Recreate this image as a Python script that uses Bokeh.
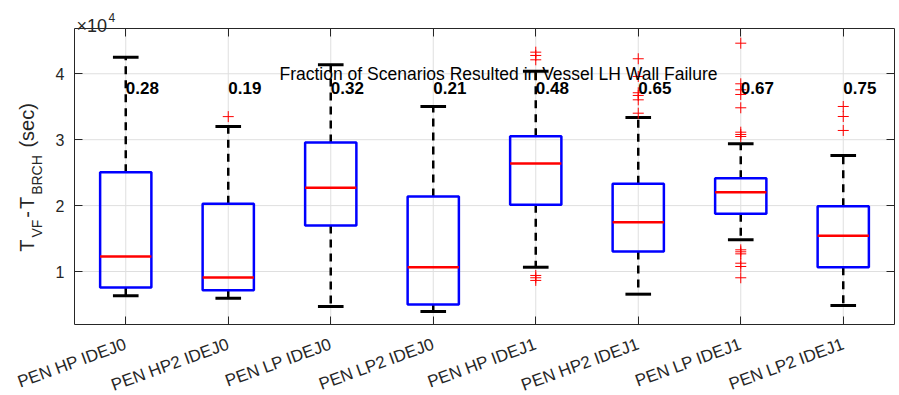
import math
from bokeh.plotting import figure
from bokeh.models import Range1d, LinearAxis, FixedTicker, Label, ColumnDataSource
from bokeh.core.properties import value
from bokeh.embed import file_html
from bokeh.resources import INLINE

# ---------------- data ----------------
categories = ["PEN HP IDEJ0", "PEN HP2 IDEJ0", "PEN LP IDEJ0", "PEN LP2 IDEJ0",
              "PEN HP IDEJ1", "PEN HP2 IDEJ1", "PEN LP IDEJ1", "PEN LP2 IDEJ1"]
fractions = ["0.28", "0.19", "0.32", "0.21", "0.48", "0.65", "0.67", "0.75"]
whisker_low = [6310, 5960, 4690, 3930, 10650, 6560, 14810, 4840]
q1 = [7570, 7160, 16980, 4990, 20120, 13030, 18750, 10650]
median = [12280, 9090, 22700, 10650, 26390, 17480, 22030, 15420]
q3 = [25070, 20270, 29580, 21380, 30530, 23310, 24160, 19910]
whisker_high = [42500, 32000, 41370, 35040, 40400, 33370, 29380, 27600]
outliers = [
    [],
    [33500],
    [],
    [],
    [43280, 42780, 42120, 9400, 9050, 8650],
    [42280, 39590, 37120, 36710, 36050, 34020],
    [44640, 38480, 37570, 36860, 34840, 31140, 30790, 30480,
     13290, 12990, 12680, 11260, 10760, 9050],
    [35040, 33520, 31400],
]
y_ticks = [10000, 20000, 30000, 40000]
y_tick_labels = ["1", "2", "3", "4"]
title_text = "Fraction of Scenarios Resulted in Vessel LH Wall Failure"
exponent_base = "\u00d710"
exponent_power = "4"
ylabel_main = ["T", "-", "T", "(sec)"]
ylabel_sub = ["VF", "BRCH"]

# ---------------- layout constants ----------------
W, H = 899, 395
FL, FR, FT, FB = 74, 894, 28, 324          # axes box edges (px)
X0, X1 = 0.5, 8.5
Y0, Y1 = 1960, 46870
FONT = "Liberation Sans"
AX = "#262626"
GRID = "#dfdfdf"

sx_per = (X1 - X0) / (FR - FL)
sy_per = (Y1 - Y0) / (FB - FT)


def px_x(px):
    return X0 + (px - FL) * sx_per


def px_y(py):
    return Y0 + (FB - py) * sy_per


xs = list(range(1, len(categories) + 1))
box_w = 0.5
cap_w = 0.25

# the frame covers the whole canvas; the axes box is drawn with fixed axes
p = figure(width=W, height=H, output_backend="svg", toolbar_location=None,
           x_range=Range1d(px_x(0), px_x(W)), y_range=Range1d(px_y(H), px_y(0)),
           x_axis_type=None, y_axis_type=None,
           min_border=0, min_border_left=0, min_border_right=0,
           min_border_top=0, min_border_bottom=0)
p.background_fill_color = "white"
p.border_fill_color = "white"
p.outline_line_color = None
p.title.visible = False

# grid lines inside the axes box
p.segment(x0=xs, y0=[Y0] * len(xs), x1=xs, y1=[Y1] * len(xs),
          line_color=GRID, line_width=1)
p.segment(x0=[X0] * len(y_ticks), y0=y_ticks, x1=[X1] * len(y_ticks), y1=y_ticks,
          line_color=GRID, line_width=1)


def make_axis(loc, bounds, ticks, labels=None, font_size="16px"):
    ax = LinearAxis(fixed_location=loc, bounds=bounds, ticker=FixedTicker(ticks=ticks))
    ax.major_tick_in = 8
    ax.major_tick_out = 0
    ax.minor_tick_in = 0
    ax.minor_tick_out = 0
    ax.minor_tick_line_color = None
    ax.axis_line_color = AX
    ax.axis_line_width = 1
    ax.major_tick_line_color = AX
    ax.major_label_text_font = FONT
    if labels is not None:
        ax.major_label_overrides = {t: l for t, l in zip(ticks, labels)}
        ax.major_label_text_font_size = font_size
        ax.major_label_text_color = AX
    else:
        ax.major_label_text_color = None
        ax.major_label_text_font_size = "0px"
    return ax


bottom_ax = make_axis(Y0, (X0, X1), xs, categories, "17px")
bottom_ax.major_label_orientation = math.radians(20)
bottom_ax.major_label_standoff = 19
p.add_layout(bottom_ax, "below")

left_ax = make_axis(X0, (Y0, Y1), y_ticks, y_tick_labels, "16px")
left_ax.major_label_standoff = 10
p.add_layout(left_ax, "left")

p.add_layout(make_axis(Y1, (X0, X1), xs), "above")
p.add_layout(make_axis(X1, (Y0, Y1), y_ticks), "right")

# ---------------- boxplot ----------------
src = ColumnDataSource(dict(
    x=xs, lo=whisker_low, q1=q1, med=median, q3=q3, hi=whisker_high,
    xl=[x - cap_w / 2 for x in xs], xr=[x + cap_w / 2 for x in xs],
    bl=[x - box_w / 2 for x in xs], br=[x + box_w / 2 for x in xs],
))

p.segment(x0="x", y0="q3", x1="x", y1="hi", source=src, line_color="black",
          line_width=2.5, line_dash="8 6")
p.segment(x0="x", y0="q1", x1="x", y1="lo", source=src, line_color="black",
          line_width=2.5, line_dash="8 6")
p.segment(x0="xl", y0="hi", x1="xr", y1="hi", source=src, line_color="black", line_width=3)
p.segment(x0="xl", y0="lo", x1="xr", y1="lo", source=src, line_color="black", line_width=3)
p.vbar(x="x", width=box_w, bottom="q1", top="q3", source=src,
       fill_color=None, line_color="#0000ff", line_width=2.5)
p.segment(x0="bl", y0="med", x1="br", y1="med", source=src, line_color="#ff0000", line_width=2.5)

ox, oy = [], []
for x, vals in zip(xs, outliers):
    for v in vals:
        ox.append(x)
        oy.append(v)
p.scatter(ox, oy, marker="cross", size=11, line_color="#ff0000", line_width=1)

# fraction labels
p.text(x=xs, y=[37900] * len(xs), text=fractions, text_font=value(FONT),
       text_font_style="bold", text_font_size="17px", text_color="black",
       text_align="left", text_baseline="alphabetic")

# in-plot title text
p.add_layout(Label(x=2.5, y=40000, text=title_text, text_font=FONT,
                   text_font_size="17.5px", text_color="black",
                   text_align="left", text_baseline="alphabetic"))

# x10^4 multiplier above the axes box
p.text(x=[px_x(76)], y=[px_y(25)], text=[exponent_base], text_font=value(FONT),
       text_font_size="18px", text_color=AX, text_align="left", text_baseline="alphabetic")
p.text(x=[px_x(108)], y=[px_y(17)], text=[exponent_power], text_font=value(FONT),
       text_font_size="12px", text_color=AX, text_align="left", text_baseline="alphabetic")

# ---------------- y-axis label (rotated pieces with subscripts) ----------------
MAIN_FS, SUB_FS = 20, 14
GAP = 2
cw = {"T": .611, "V": .667, "F": .611, "-": .333, "B": .667, "R": .722, "C": .722,
      "H": .722, " ": .278, "(": .333, "s": .5, "e": .556, "c": .5, ")": .333}
seq = [("T", 0), ("VF", 1), ("-", 0), ("T", 0), ("BRCH", 1), ("(sec)", 0)]
lens = [sum(cw[ch] for ch in t) * (SUB_FS if s else MAIN_FS) for t, s in seq]
extra = [GAP, GAP, GAP, GAP, 0.278 * MAIN_FS + GAP, 0]
total = sum(lens) + sum(extra)
cy = 177 + total / 2
main_x, main_y, sub_x, sub_y = [], [], [], []
for (t, s), ln, ex in zip(seq, lens, extra):
    if s:
        sub_x.append(px_x(36))
        sub_y.append(px_y(cy))
    else:
        main_x.append(px_x(26))
        main_y.append(px_y(cy))
    cy -= ln + ex
p.text(x=main_x, y=main_y, text=ylabel_main, angle=math.pi / 2,
       text_font=value(FONT), text_font_size=f"{MAIN_FS}px", text_color=AX,
       text_align="left", text_baseline="alphabetic")
p.text(x=sub_x, y=sub_y, text=ylabel_sub, angle=math.pi / 2,
       text_font=value(FONT), text_font_size=f"{SUB_FS}px", text_color=AX,
       text_align="left", text_baseline="alphabetic")

open("out.html", "w").write(file_html(p, INLINE))
